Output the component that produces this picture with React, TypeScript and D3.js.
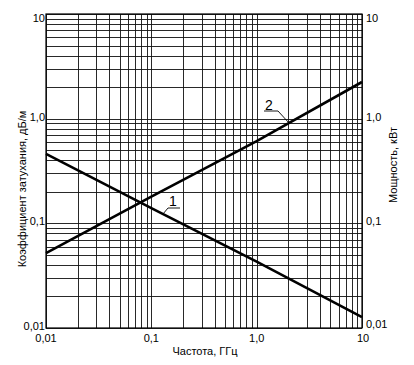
import React, { useEffect, useRef } from "react";
import * as d3 from "d3";

// frequency, GHz
const freq = [0.01, 0.1, 1, 10];
// curve 1 - attenuation, dB/m
const attenuation = [0.46, 0.14, 0.043, 0.0127];
// curve 2 - power, kW
const power = [0.052, 0.18, 0.61, 2.24];

const xTicks = [0.01, 0.1, 1, 10];
const xTickLabels = ["0,01", "0,1", "1,0", "10"];
const yTicks = [0.01, 0.1, 1, 10];
const yTickLabels = ["0,01", "0,1", "1,0", "10"];

const W = 414;
const H = 365;

const App = () => {
  const ref = useRef<SVGSVGElement | null>(null);

  useEffect(() => {
    const margin = { top: 14, right: 52, bottom: 37, left: 46 };
    const svg = d3.select(ref.current);
    svg.selectAll("*").remove();

    const x = d3
      .scaleLog()
      .domain([0.01, 10])
      .range([margin.left, W - margin.right]);
    const y = d3
      .scaleLog()
      .domain([0.01, 10])
      .range([H - margin.bottom, margin.top]);

    const font = "'Liberation Sans', Arial, sans-serif";

    // every 1..9 in each decade
    const minor: number[] = [];
    for (let e = -2; e < 1; e++) {
      for (let k = 1; k < 10; k++) minor.push(k * Math.pow(10, e));
    }
    minor.push(10);

    const grid = svg.append("g").attr("stroke", "#111").attr("stroke-width", 0.9);
    grid
      .selectAll(".vx")
      .data(minor)
      .enter()
      .append("line")
      .attr("x1", (d) => Math.round(x(d)) + 0.5)
      .attr("x2", (d) => Math.round(x(d)) + 0.5)
      .attr("y1", y(10))
      .attr("y2", y(0.01));
    grid
      .selectAll(".hy")
      .data(minor)
      .enter()
      .append("line")
      .attr("y1", (d) => Math.round(y(d)) + 0.5)
      .attr("y2", (d) => Math.round(y(d)) + 0.5)
      .attr("x1", x(0.01))
      .attr("x2", x(10));

    svg
      .append("rect")
      .attr("x", x(0.01))
      .attr("y", y(10))
      .attr("width", x(10) - x(0.01))
      .attr("height", y(0.01) - y(10))
      .attr("fill", "none")
      .attr("stroke", "#000")
      .attr("stroke-width", 1.2);

    const line = d3
      .line<number>()
      .x((d, i) => x(freq[i]))
      .y((d) => y(d));

    svg
      .append("path")
      .datum(attenuation)
      .attr("d", line)
      .attr("fill", "none")
      .attr("stroke", "#000")
      .attr("stroke-width", 2.6);
    svg
      .append("path")
      .datum(power)
      .attr("d", line)
      .attr("fill", "none")
      .attr("stroke", "#000")
      .attr("stroke-width", 2.6);

    // curve labels with leaders
    const at1 = (px: number) => {
      const f = x.invert(px);
      const v = Math.pow(10, d3.scaleLinear().domain(freq.map(Math.log10)).range(attenuation.map(Math.log10))(Math.log10(f)));
      return y(v);
    };
    const at2 = (px: number) => {
      const f = x.invert(px);
      const v = Math.pow(10, d3.scaleLinear().domain(freq.map(Math.log10)).range(power.map(Math.log10))(Math.log10(f)));
      return y(v);
    };

    const lbl = svg.append("g").attr("fill", "#000").attr("font-family", font);
    lbl.append("text").attr("x", 173).attr("y", 206).attr("font-size", 14).attr("text-anchor", "middle").text("1");
    svg
      .append("polyline")
      .attr("points", `180,208 168,208 163,${at1(163)}`)
      .attr("fill", "none")
      .attr("stroke", "#000")
      .attr("stroke-width", 0.9);
    lbl.append("text").attr("x", 269).attr("y", 110).attr("font-size", 14).attr("text-anchor", "middle").text("2");
    svg
      .append("polyline")
      .attr("points", `264,111 278,111 289,${at2(289)}`)
      .attr("fill", "none")
      .attr("stroke", "#000")
      .attr("stroke-width", 0.9);

    const tl = svg.append("g").attr("font-family", font).attr("font-size", 11).attr("fill", "#000");
    xTicks.forEach((t, i) => {
      tl.append("text")
        .attr("x", x(t) + (i === 3 ? 1 : 0))
        .attr("y", H - margin.bottom + 14)
        .attr("text-anchor", "middle")
        .text(xTickLabels[i]);
    });
    yTicks.forEach((t, i) => {
      tl.append("text")
        .attr("x", margin.left - 1)
        .attr("y", y(t) + (i === 3 ? 8 : 2))
        .attr("text-anchor", "end")
        .text(yTickLabels[i]);
      tl.append("text")
        .attr("x", W - margin.right + 4)
        .attr("y", y(t) + (i === 0 ? 0 : i === 3 ? 8 : 2))
        .attr("text-anchor", "start")
        .text(yTickLabels[i]);
    });

    tl.append("text")
      .attr("x", 205)
      .attr("y", 355)
      .attr("text-anchor", "middle")
      .text("Частота, ГГц");
    tl.append("text")
      .attr("transform", "translate(26,189) rotate(-90)")
      .attr("text-anchor", "middle")
      .text("Коэффициент затухания, дБ/м");
    tl.append("text")
      .attr("transform", "translate(397,165) rotate(-90)")
      .attr("text-anchor", "middle")
      .text("Мощность, кВт");
  }, []);

  return (
    <div style={{ position: "absolute", left: 0, top: 0, background: "#fff" }}>
      <svg ref={ref} width={W} height={H} />
    </div>
  );
};

export default App;
